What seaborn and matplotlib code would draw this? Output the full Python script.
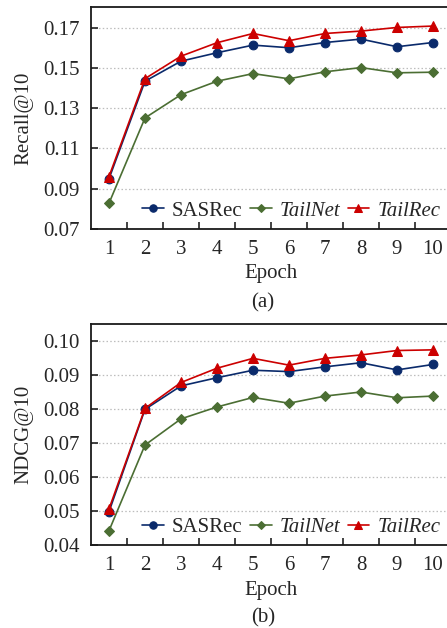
import matplotlib
matplotlib.use("Agg")
import matplotlib.pyplot as plt
import seaborn as sns
import pandas as pd
import numpy as np

epochs = [1, 2, 3, 4, 5, 6, 7, 8, 9, 10]
models = ["SASRec", "TailNet", "TailRec"]

recall_sasrec = [0.0949, 0.1435, 0.1535, 0.1577, 0.1615, 0.1602, 0.1628, 0.1645, 0.1607, 0.1628]
recall_tailnet = [0.0827, 0.1252, 0.1368, 0.1435, 0.1473, 0.1447, 0.1482, 0.1503, 0.1477, 0.1480]
recall_tailrec = [0.0960, 0.1448, 0.1560, 0.1627, 0.1673, 0.1637, 0.1673, 0.1685, 0.1703, 0.1710]

ndcg_sasrec = [0.0498, 0.0799, 0.0868, 0.0892, 0.0914, 0.0910, 0.0924, 0.0936, 0.0915, 0.0931]
ndcg_tailnet = [0.0442, 0.0694, 0.0771, 0.0806, 0.0834, 0.0817, 0.0838, 0.0850, 0.0833, 0.0838]
ndcg_tailrec = [0.0506, 0.0802, 0.0878, 0.0920, 0.0949, 0.0929, 0.0949, 0.0959, 0.0972, 0.0974]

recall_ticks = [0.07, 0.09, 0.11, 0.13, 0.15, 0.17]
ndcg_ticks = [0.04, 0.05, 0.06, 0.07, 0.08, 0.09, 0.10]

colors = {"SASRec": "#0a2a6b", "TailNet": "#4b6e33", "TailRec": "#cc0000"}
markers = {"SASRec": "o", "TailNet": "D", "TailRec": "^"}
msizes = {"SASRec": 6.3, "TailNet": 5.0, "TailRec": 7.3}

sns.set_theme(style="ticks")
plt.rcParams["font.family"] = ["Liberation Serif", "DejaVu Serif"]

FS = 15

fig = plt.figure(figsize=(4.47, 6.28), dpi=100)
W, H = 447, 628


def make_ax(top_px, bottom_px):
    left = 91
    right = 451
    return fig.add_axes([left / W, 1 - bottom_px / H, (right - left) / W, (bottom_px - top_px) / H])


def draw(ax, series, ticks, ylim, ylabel, fmt):
    df = pd.DataFrame({
        "Epoch": epochs * 3,
        "value": series[0] + series[1] + series[2],
        "Model": sum([[m] * len(epochs) for m in models], []),
    })
    for m in models:
        sub = df[df["Model"] == m]
        sns.lineplot(data=sub, x="Epoch", y="value", ax=ax, color=colors[m],
                     marker=markers[m], markersize=msizes[m], markeredgecolor=colors[m],
                     linewidth=1.2, label=m, zorder=3)
    ax.set_xlim(0.5, 10.5)
    ax.set_ylim(*ylim)
    ax.set_yticks(ticks)
    ax.set_yticklabels([fmt.format(t) for t in ticks], fontsize=FS)
    ax.set_xticks(epochs)
    ax.set_xticklabels([str(e) for e in epochs], fontsize=FS)
    ax.tick_params(axis="x", length=0, pad=8)
    ax.set_xticks([e + 0.5 for e in epochs[:-1]], minor=True)
    ax.tick_params(axis="x", which="minor", direction="in", length=5, width=1.2, color="#222222")
    ax.tick_params(axis="y", direction="in", length=5, width=1.2, pad=8, color="#222222")
    ax.grid(axis="y", linestyle=(0, (1.2, 1.8)), color="#bdbdbd", linewidth=0.9, zorder=0)
    for s in ax.spines.values():
        s.set_linewidth(1.3)
        s.set_color("#1a1a1a")
    ax.set_ylabel(ylabel, fontsize=FS, labelpad=7)
    ax.set_xlabel("Epoch", fontsize=FS, labelpad=4)
    leg = ax.legend(loc="lower right", bbox_to_anchor=(1.005, -0.02), ncol=3, frameon=False,
                    fontsize=FS, handlelength=1.05, handletextpad=0.38, columnspacing=0.35,
                    markerscale=0.85, borderaxespad=0.2)
    for t in leg.get_texts():
        if t.get_text() in ("TailNet", "TailRec"):
            t.set_fontstyle("italic")


ax1 = make_ax(7, 228.7)
draw(ax1, [recall_sasrec, recall_tailnet, recall_tailrec], recall_ticks, (0.07, 0.1805), "Recall@10", "{:.2f}")
fig.text(263 / W, 1 - 303 / H, "(a)", ha="center", va="center", fontsize=FS)

ax2 = make_ax(324, 545)
draw(ax2, [ndcg_sasrec, ndcg_tailnet, ndcg_tailrec], ndcg_ticks, (0.04, 0.105), "NDCG@10", "{:.2f}")
fig.text(263 / W, 1 - 618 / H, "(b)", ha="center", va="center", fontsize=FS)

fig.savefig("out.png", dpi=100, facecolor="white")
